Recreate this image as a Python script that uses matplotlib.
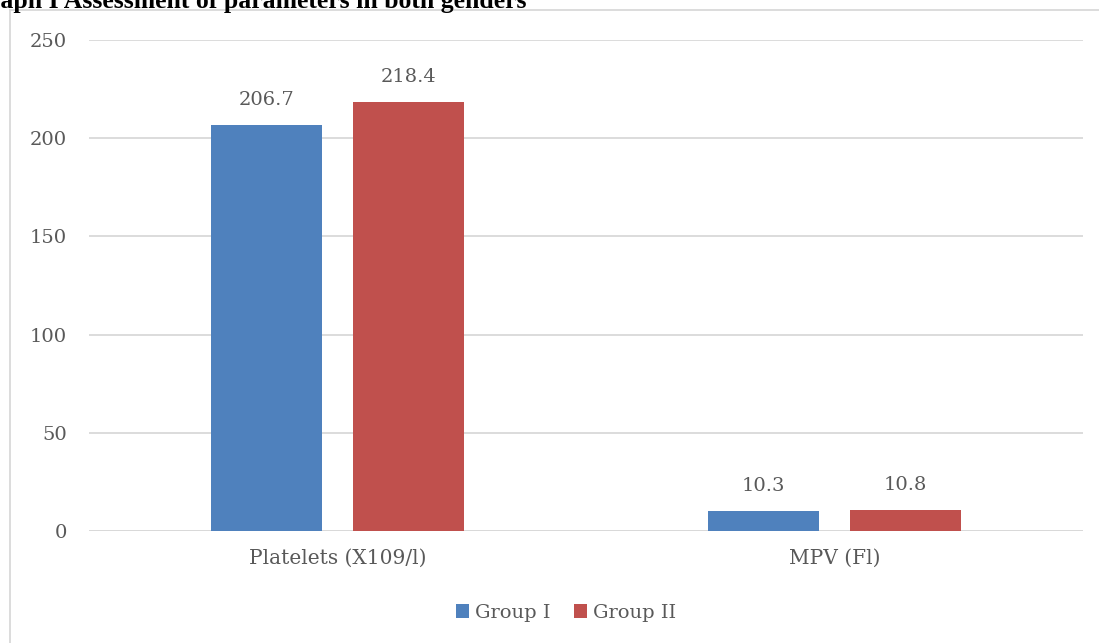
import matplotlib
matplotlib.use('Agg')
import matplotlib.pyplot as plt
import numpy as np
from matplotlib.lines import Line2D

categories = ['Platelets (X109/l)', 'MPV (Fl)']
group1 = [206.7, 10.3]
group2 = [218.4, 10.8]
series_names = ['Group I', 'Group II']
yticks = [0, 50, 100, 150, 200, 250]

blue = '#4F81BD'
red = '#C0504D'
txt = '#595959'
grid = '#d9d9d9'

plt.rcParams['font.family'] = ['DejaVu Serif']

W, H = 1099, 643
fig = plt.figure(figsize=(W / 100, H / 100), dpi=100)
ax = fig.add_axes([89 / W, 1 - 531 / H, (1083 - 89) / W, (531 - 40) / H])

x = np.arange(len(categories))
bw = 0.223
off = 0.143
b1 = ax.bar(x - off, group1, bw, color=blue, label=series_names[0], zorder=3)
b2 = ax.bar(x + off, group2, bw, color=red, label=series_names[1], zorder=3)

# value labels above bars
for bars, vals in ((b1, group1), (b2, group2)):
    for rect, v in zip(bars, vals):
        ax.annotate(f'{v}', (rect.get_x() + rect.get_width() / 2, v),
                    xytext=(0, 18), textcoords='offset points',
                    ha='center', va='center', fontsize=14, color=txt)

ax.set_xlim(-0.5, 1.5)
ax.set_ylim(0, 250)
ax.set_yticks(yticks)
ax.set_xticks(x)
ax.set_xticklabels(categories)
ax.tick_params(axis='y', length=0, pad=16, labelsize=14, labelcolor=txt)
ax.tick_params(axis='x', length=0, pad=13, labelsize=14.5, labelcolor=txt)
ax.yaxis.grid(True, color=grid, linewidth=1.3, zorder=0)
for s in ax.spines.values():
    s.set_visible(False)
ax.axhline(0, color=grid, linewidth=1.3, zorder=2)

leg = fig.legend(handles=[b1, b2], labels=series_names, loc='center',
                 bbox_to_anchor=(566 / W, 1 - 613 / H), ncol=2, frameon=False,
                 fontsize=14, handlelength=0.7, handleheight=0.7,
                 handletextpad=0.3, columnspacing=1.2)
for t in leg.get_texts():
    t.set_color(txt)

# chart border, only left and top are inside the picture
fig.add_artist(Line2D([10 / W, 10 / W], [0, 1 - 10 / H], color=grid, lw=1.3))
fig.add_artist(Line2D([10 / W, 1], [1 - 10 / H, 1 - 10 / H], color=grid, lw=1.3))

# heading, cut off at the top-left like the source
r = fig.canvas.get_renderer()
probe = fig.text(0, 0, 'Gr', family='Liberation Serif', weight='bold', fontsize=18.5)
gw = probe.get_window_extent(r).width
probe.remove()
fig.text(-gw / W, 1 - 8 / H, 'Graph I Assessment of parameters in both genders',
         family='Liberation Serif', weight='bold', fontsize=18.5, va='baseline', ha='left')

fig.savefig('out.png', dpi=100)
